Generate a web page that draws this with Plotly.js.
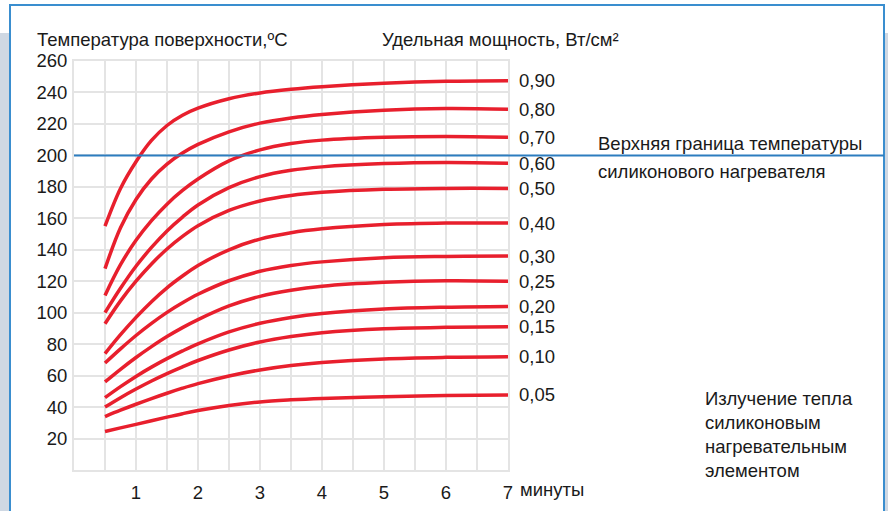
<!DOCTYPE html>
<html>
<head>
<meta charset="utf-8">
<script src="https://cdn.plot.ly/plotly-3.0.1.min.js"></script>
<style>html,body{margin:0;padding:0;background:#fff;}#chart{width:888px;height:511px;}</style>
</head>
<body>
<div id="chart"></div>
<script>
// Time, minutes
const minutes = [0.5, 0.75, 1, 1.25, 1.5, 1.75, 2, 2.5, 3, 3.5, 4, 5, 6, 7];
// Power density labels, W/cm²
const densityLabels = ["0,90", "0,80", "0,70", "0,60", "0,50", "0,40", "0,30", "0,25", "0,20", "0,15", "0,10", "0,05"];
// Surface temperature, °C
const p090 = [155, 179, 196, 209.5, 219, 225.5, 230, 236, 239.7, 242, 243.6, 245.8, 247.1, 247.5];
const p080 = [128, 154, 172, 185, 194.5, 201.5, 207, 215, 220.5, 223.8, 226, 228.7, 229.8, 229.3];
const p070 = [111, 130.5, 146, 158.5, 169, 177.7, 185, 196.5, 203.5, 207.5, 209.7, 211.5, 212, 211.5];
const p060 = [100, 115.5, 129.5, 141.5, 152, 160.8, 168.5, 179.5, 186.5, 190.5, 192.7, 194.8, 195.5, 195];
const p050 = [93, 107.5, 120, 131, 140.5, 148.5, 155.3, 165, 171, 174.5, 176.5, 178.4, 179, 179];
const p040 = [74, 86, 97, 107, 115.8, 123.3, 130, 140, 146.8, 150.8, 153.3, 156, 157, 157];
const p030 = [68, 77, 85.5, 93.2, 100.2, 106.3, 111.7, 120.3, 126.3, 130, 132.3, 135, 135.8, 136];
const p025 = [56, 64, 71.5, 78.4, 84.8, 90.5, 95.6, 104.3, 110.4, 114.3, 116.8, 119.3, 120.3, 120];
const p020 = [46, 53, 59.5, 65.4, 70.8, 75.7, 80.2, 87.8, 93.3, 97, 99.5, 102.3, 103.5, 104];
const p015 = [40, 46, 51.5, 56.6, 61.3, 65.6, 69.6, 76.3, 81.4, 84.9, 87.3, 89.8, 90.7, 91];
const p010 = [34, 38, 41.8, 45.4, 48.8, 52, 54.9, 59.8, 63.6, 66.4, 68.3, 70.6, 71.6, 72];
const p005 = [24.5, 26.8, 29, 31.3, 33.6, 35.8, 37.8, 41, 43.3, 44.6, 45.5, 46.6, 47.3, 47.7];
const series = [p090, p080, p070, p060, p050, p040, p030, p025, p020, p015, p010, p005];

const xTickVals = [1, 2, 3, 4, 5, 6, 7];
const xTickText = ["1", "2", "3", "4", "5", "6", "7"];
const yTickVals = [20, 40, 60, 80, 100, 120, 140, 160, 180, 200, 220, 240, 260];
const limitTemp = 200;

const FONT = "Liberation Sans, Arial, sans-serif";
const FS = 18.5;
const TXT = "#1a1a1a";
const RED = "#e81f2d";
const GRID = "#e4e4e4";

// plot area in pixels
const L = 74, R = 508, T = 61, B = 470;
const W = 888, H = 511;
const px = x => (x - L) / (R - L);
const py = y => (B - y) / (B - T);

const traces = series.map((vals, i) => ({
  type: "scatter", mode: "lines",
  x: minutes, y: vals,
  line: {color: RED, width: 3.5, shape: "spline", smoothing: 1},
  hoverinfo: "skip", showlegend: false, name: densityLabels[i]
}));

const annotations = series.map((vals, i) => ({
  x: minutes[minutes.length - 1], y: vals[vals.length - 1],
  xref: "x", yref: "y", xanchor: "left", yanchor: "middle",
  xshift: 9, text: densityLabels[i], showarrow: false,
  font: {family: FONT, size: FS, color: TXT}
}));

function txt(x, y, text, xanchor, extra) {
  return Object.assign({
    xref: "paper", yref: "paper", x: px(x), y: py(y), text: text,
    xanchor: xanchor || "left", yanchor: "middle", showarrow: false,
    font: {family: FONT, size: FS, color: TXT}, align: "left"
  }, extra || {});
}

annotations.push(txt(35, 39, "Температура поверхности,ºС"));
annotations.push(txt(380, 39, "Удельная мощность, Вт/см²"));
annotations.push(txt(596, 143, "Верхняя граница температуры"));
annotations.push(txt(596, 171, "силиконового нагревателя"));
annotations.push(txt(703, 434, "Излучение тепла<br>силиконовым<br>нагревательным<br>элементом"));
annotations.push(txt(518, 489, "минуты"));

const shapes = [
  {type: "rect", xref: "paper", yref: "paper", x0: px(-5), x1: px(W + 5), y0: py(-5), y1: py(33),
   fillcolor: "#ffffff", line: {width: 0}, layer: "below"},
  {type: "rect", xref: "paper", yref: "paper", x0: px(10), x1: px(884), y0: py(5), y1: py(530),
   fillcolor: "#ffffff", line: {color: "#3a8ecf", width: 2}, layer: "below"},
  {type: "line", xref: "paper", yref: "y", x0: 0, x1: px(884), y0: limitTemp, y1: limitTemp,
   line: {color: "#2c7dbf", width: 2}, layer: "above"}
];

const layout = {
  width: W, height: H,
  margin: {l: L, r: W - R, t: T, b: H - B, pad: 0},
  paper_bgcolor: "#cfd8e3",
  plot_bgcolor: "#ffffff",
  font: {family: FONT, size: FS, color: TXT},
  showlegend: false,
  xaxis: {
    range: [0, 7], tickvals: xTickVals, ticktext: xTickText,
    showgrid: true, gridcolor: GRID, gridwidth: 2,
    minor: {dtick: 0.5, tick0: 0, showgrid: true, gridcolor: GRID, gridwidth: 2, ticks: ""},
    showline: true, linecolor: GRID, linewidth: 2, mirror: true,
    zeroline: false, ticks: "", ticklabelstandoff: 5,
    tickfont: {family: FONT, size: FS, color: TXT}, fixedrange: true
  },
  yaxis: {
    range: [0, 260], tickvals: yTickVals,
    showgrid: true, gridcolor: GRID, gridwidth: 2,
    showline: true, linecolor: GRID, linewidth: 2, mirror: true,
    zeroline: false, ticks: "", ticklabelstandoff: 1,
    tickfont: {family: FONT, size: FS, color: TXT}, fixedrange: true
  },
  shapes: shapes,
  annotations: annotations
};

Plotly.newPlot("chart", traces, layout, {displayModeBar: false, staticPlot: true});
</script>
</body>
</html>
